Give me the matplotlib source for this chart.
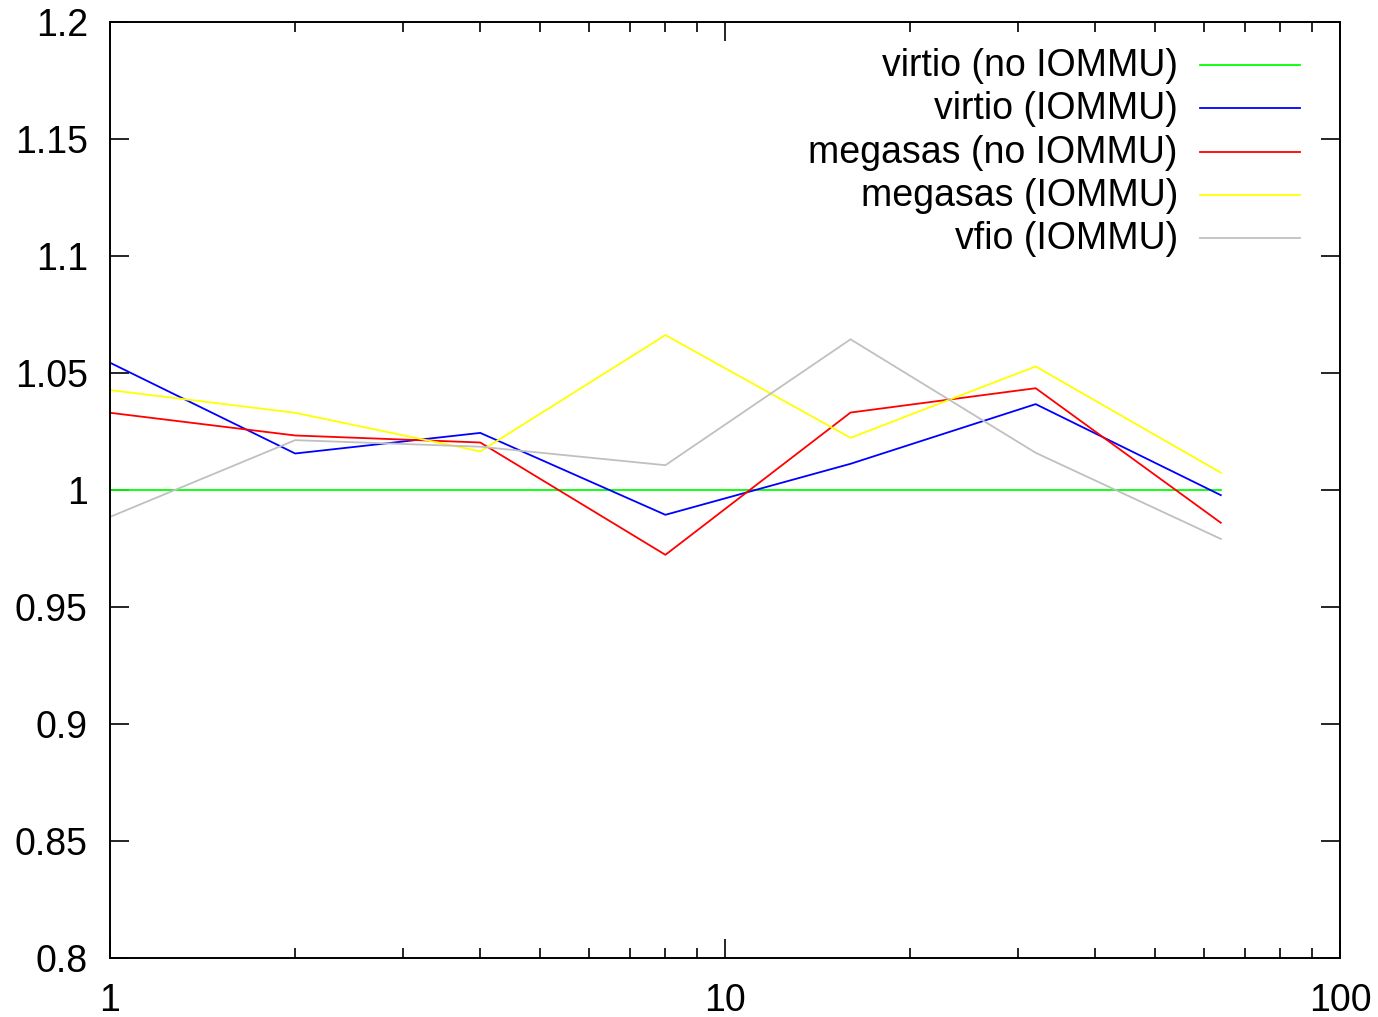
import matplotlib
matplotlib.use("Agg")
import matplotlib.pyplot as plt
from matplotlib.ticker import FixedLocator, FuncFormatter, LogLocator, NullFormatter

plt.rcParams['font.family'] = ['Liberation Sans', 'DejaVu Sans']

# queue depth (x) and relative throughput per configuration
depth = [1, 2, 4, 8, 16, 32, 64]
virtio_no_iommu = [1.0, 1.0, 1.0, 1.0, 1.0, 1.0, 1.0]
virtio_iommu = [1.0544, 1.0156, 1.0244, 0.9894, 1.0112, 1.0367, 0.9978]
megasas_no_iommu = [1.0330, 1.0233, 1.0203, 0.9723, 1.0331, 1.0435, 0.9860]
megasas_iommu = [1.0427, 1.0330, 1.0165, 1.0662, 1.0223, 1.0528, 1.0074]
vfio_iommu = [0.9885, 1.0213, 1.0185, 1.0106, 1.0644, 1.0159, 0.9791]

labels = ['virtio (no IOMMU)', 'virtio (IOMMU)', 'megasas (no IOMMU)',
          'megasas (IOMMU)', 'vfio (IOMMU)']
colors = ['#00ff00', '#0000ff', '#ff0000', '#ffff00', '#c0c0c0']
series = [virtio_no_iommu, virtio_iommu, megasas_no_iommu, megasas_iommu, vfio_iommu]

yticks = [0.8, 0.85, 0.9, 0.95, 1.0, 1.05, 1.1, 1.15, 1.2]

fig = plt.figure(figsize=(13.78, 10.17), dpi=100)
ax = fig.add_axes([110 / 1378, 1 - 958 / 1017, 1230 / 1378, 936 / 1017])

for vals, col in zip(series, colors):
    ax.plot(depth, vals, color=col, lw=1.3)

ax.set_xscale('log')
ax.set_xlim(1, 100)
ax.set_ylim(0.8, 1.2)

ax.xaxis.set_major_locator(FixedLocator([1, 10, 100]))
ax.xaxis.set_minor_locator(LogLocator(base=10, subs=range(2, 10)))
ax.xaxis.set_major_formatter(FuncFormatter(lambda v, p: '%g' % v))
ax.xaxis.set_minor_formatter(NullFormatter())
ax.yaxis.set_major_locator(FixedLocator(yticks))
ax.yaxis.set_major_formatter(FuncFormatter(lambda v, p: '%g' % round(v, 2)))

for s in ax.spines.values():
    s.set_linewidth(1.4)

ax.tick_params(which='major', direction='in', length=14, width=1.2,
               top=True, right=True, labelsize=27, color='black')
ax.tick_params(axis='y', pad=16)
ax.tick_params(axis='x', pad=18)
ax.tick_params(which='minor', direction='in', length=7, width=1.2,
               top=True, right=True)

# key in the upper right, text right-aligned before the line sample
y0 = (958 - 66) / 936
dy = 43.3 / 936
for i, (lab, col) in enumerate(zip(labels, colors)):
    yy = y0 - i * dy
    ax.text((1178 - 110) / 1230, yy, lab, transform=ax.transAxes,
            ha='right', va='center', fontsize=27)
    ax.plot([(1200 - 110) / 1230, (1300 - 110) / 1230], [yy + 1 / 936] * 2,
            transform=ax.transAxes, color=col, lw=1.3)

fig.savefig('out.png', dpi=100)
